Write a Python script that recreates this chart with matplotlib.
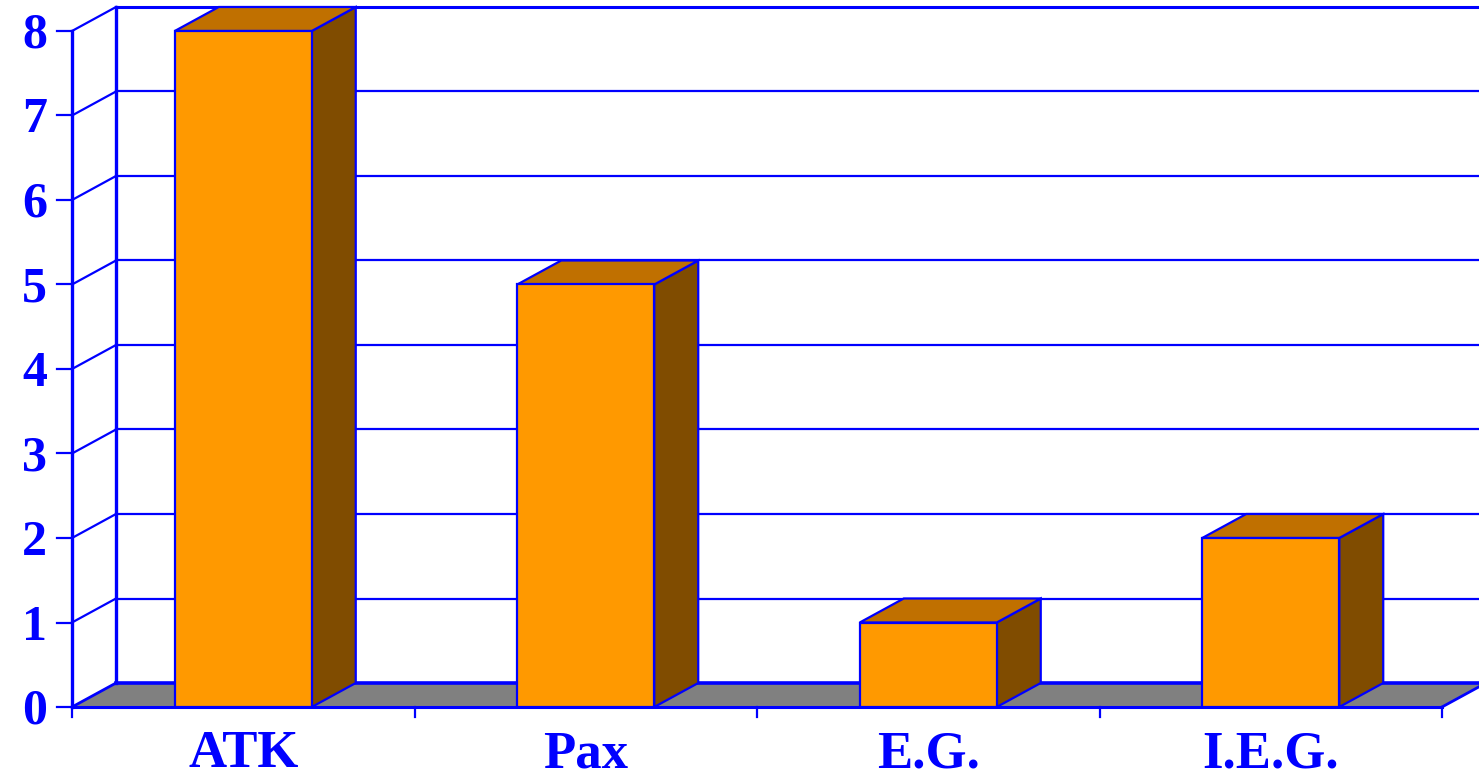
import matplotlib
matplotlib.use("Agg")
import matplotlib.pyplot as plt
from matplotlib.patches import Polygon, Rectangle

categories = ["ATK", "Pax", "E.G.", "I.E.G."]
values = [8, 5, 1, 2]
yticks = [0, 1, 2, 3, 4, 5, 6, 7, 8]

BLUE = "#0000FF"
FRONT = "#FF9900"
TOP = "#C07000"
SIDE = "#804C00"
FLOOR = "#808080"

W, H = 1479, 776
fig = plt.figure(figsize=(W / 100, H / 100), dpi=100)
ax = fig.add_axes([0, 0, 1, 1])
ax.set_axis_off()

xpx = 342.5          # pixels per category
ypx = 84.5           # pixels per unit
x0px, y0px = 72, 707  # front origin in pixels
ax.set_xlim(-0.5 - x0px / xpx, -0.5 + (W - x0px) / xpx)
ax.set_ylim(-(H - y0px) / ypx, y0px / ypx)

dx = 44 / xpx
dy = 24 / ypx
n = len(categories)
xl, xr = -0.5, n - 0.5
ymax = yticks[-1]
bw = 0.4

# floor
ax.add_patch(Polygon([(xl, 0), (xr, 0), (xr + dx, dy), (xl + dx, dy)],
                     closed=True, facecolor=FLOOR, edgecolor="none", zorder=1))
ax.plot([xl, xr], [0, 0], color=BLUE, lw=2.2, zorder=2)
ax.plot([xr, xr + dx], [0, dy], color=BLUE, lw=2.0, zorder=2)
ax.plot([xl + dx, xr + dx], [dy, dy], color=BLUE, lw=2.6, zorder=2)
ax.plot([xl, xl + dx], [0, dy], color=BLUE, lw=2.0, zorder=2)

# gridlines on back wall and left wall
for v in yticks[1:]:
    ax.plot([xl + dx, xr + dx], [v + dy, v + dy], color=BLUE,
            lw=1.6 if v < ymax else 2.2, zorder=1)
    ax.plot([xl, xl + dx], [v, v + dy], color=BLUE, lw=1.6, zorder=1)

# wall verticals
ax.plot([xl + dx, xl + dx], [dy, ymax + dy], color=BLUE, lw=2.4, zorder=2)
ax.plot([xl, xl], [0, ymax], color=BLUE, lw=2.4, zorder=6)

# y ticks
for v in yticks:
    ax.plot([xl - 15 / xpx, xl], [v, v], color=BLUE, lw=1.6, zorder=6)
    ax.text(xl - 25 / xpx, v - 17 / ypx, str(v), ha="right", va="baseline",
            color=BLUE, fontsize=36, fontweight="bold",
            family="Liberation Serif", zorder=7)

# x ticks
for i in range(n + 1):
    xt = xl + i
    ax.plot([xt, xt], [0, -10 / ypx], color=BLUE, lw=1.6, zorder=6)

# bars
for i, (c, v) in enumerate(zip(categories, values)):
    left, right = i - bw / 2, i + bw / 2
    ax.add_patch(Polygon([(right, 0), (right + dx, dy), (right + dx, v + dy), (right, v)],
                         closed=True, facecolor=SIDE, edgecolor=BLUE, lw=1.6, zorder=4))
    ax.add_patch(Polygon([(left, v), (right, v), (right + dx, v + dy), (left + dx, v + dy)],
                         closed=True, facecolor=TOP, edgecolor=BLUE, lw=1.6, zorder=4))
    ax.add_patch(Rectangle((left, 0), bw, v, facecolor=FRONT, edgecolor=BLUE,
                           lw=1.6, zorder=5))
    ax.text(i, -60 / ypx, c, ha="center", va="baseline", color=BLUE,
            fontsize=38, fontweight="bold", family="Liberation Serif", zorder=7)

fig.savefig("out.png", dpi=100)
